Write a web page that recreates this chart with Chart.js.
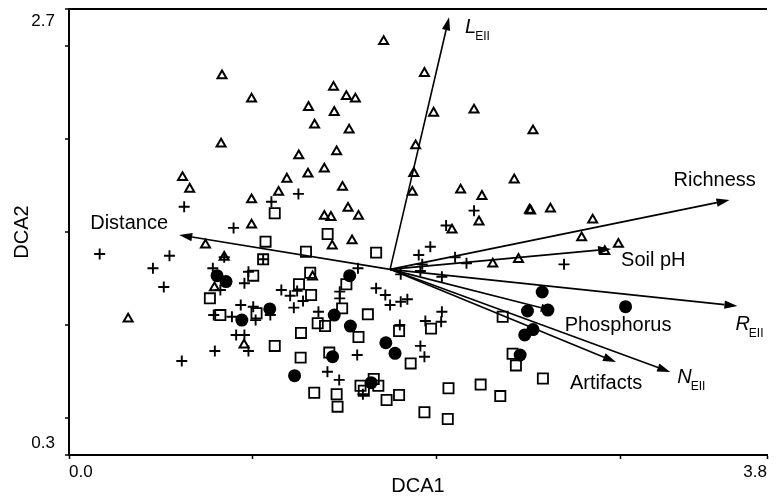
<!DOCTYPE html>
<html>
<head>
<meta charset="utf-8">
<script src="https://cdn.jsdelivr.net/npm/chart.js@4.4.0/dist/chart.umd.min.js"></script>
<style>
  html, body { margin: 0; padding: 0; background: #fff; }
  #wrap { width: 776px; height: 496px; }
</style>
</head>
<body>
<div id="wrap"><canvas id="dca" width="776" height="496"></canvas></div>
<script>
// sample scores, group by symbol (DCA axis 1, axis 2)
const triX = [0.833, 0.994, 1.304, 0.828, 1.251, 1.301, 0.618, 0.657, 1.186, 1.141, 0.994, 0.994,
  1.713, 1.935, 1.440, 1.510, 1.559, 1.444, 1.985, 2.205, 1.337, 1.525, 2.526, 1.457, 1.887,
  1.390, 1.877, 1.489, 1.869, 2.424, 2.132, 2.248, 1.519, 1.390, 1.426, 1.576, 2.507, 2.513,
  2.621, 2.232, 2.085, 2.851, 2.791, 2.991, 0.743, 0.322, 0.792, 0.953, 0.845, 1.541, 1.433,
  1.326, 2.307, 2.447, 2.917];
const triY = [2.341, 2.216, 2.171, 1.974, 1.911, 1.812, 1.794, 1.731, 1.785, 1.714, 1.674, 1.538,
  2.526, 2.354, 2.279, 2.230, 2.216, 2.144, 2.140, 2.157, 2.076, 2.049, 2.045, 1.932, 1.964,
  1.839, 1.816, 1.741, 1.714, 1.781, 1.726, 1.692, 1.628, 1.585, 1.579, 1.585, 1.618, 1.614,
  1.624, 1.555, 1.511, 1.565, 1.470, 1.434, 1.430, 1.032, 1.200, 0.892, 1.364, 1.453, 1.425,
  1.259, 1.328, 1.353, 1.395];

const crossX = [0.627, 1.249, 1.102, 0.896, 0.167, 0.547, 0.457, 0.516, 0.783, 0.845, 0.977, 0.955,
  0.824, 0.788, 0.887, 0.935, 1.003, 1.016, 0.910, 0.955, 0.977, 0.794, 0.614, 1.156, 1.204,
  1.242, 1.224, 1.274, 1.096, 1.057, 2.205, 2.053, 2.695, 1.967, 1.904, 1.923, 1.913, 2.102,
  2.164, 2.030, 1.573, 1.806, 1.672, 1.722, 1.748, 1.806, 1.842, 1.474, 1.474, 1.358, 2.030,
  1.940, 2.026, 1.801, 1.913, 1.935, 1.569, 1.407, 1.471, 1.600];
const crossY = [1.636, 1.705, 1.663, 1.522, 1.382, 1.372, 1.305, 1.204, 1.305, 1.364, 1.286, 1.224,
  1.188, 1.053, 1.044, 1.107, 1.098, 1.026, 0.946, 0.946, 0.860, 0.860, 0.806, 1.188, 1.157,
  1.183, 1.093, 1.129, 1.053, 1.353, 1.615, 1.535, 1.326, 1.421, 1.376, 1.326, 1.290, 1.364,
  1.332, 1.259, 1.305, 1.272, 1.197, 1.161, 1.107, 1.125, 1.138, 1.179, 1.143, 1.071, 1.071,
  1.021, 1.017, 1.000, 0.887, 0.829, 0.838, 0.748, 0.704, 0.627];

const squareX = [1.120, 1.408, 1.070, 1.057, 1.003, 0.767, 0.824, 1.021, 1.252, 1.263, 1.120, 1.261,
  1.290, 1.672, 1.313, 1.318, 1.510, 1.487, 1.354, 1.394, 1.627, 1.576, 1.797, 1.971, 1.417,
  1.860, 1.587, 1.659, 1.684, 1.605, 1.335, 1.457, 1.462, 1.729, 1.797, 1.935, 2.066, 2.241,
  2.348, 2.062, 2.361, 2.415, 2.433, 2.580];
const squareY = [1.601, 1.489, 1.448, 1.353, 1.265, 1.143, 1.053, 1.063, 1.219, 0.957, 0.887, 0.824,
  1.394, 1.389, 1.281, 1.161, 1.219, 1.089, 1.009, 0.994, 1.057, 0.935, 0.967, 0.980, 0.851,
  0.793, 0.673, 0.709, 0.673, 0.646, 0.635, 0.627, 0.560, 0.596, 0.623, 0.530, 0.659, 0.679,
  0.617, 0.494, 1.044, 0.845, 0.782, 0.712];

const dotX = [0.806, 0.855, 0.941, 1.093, 1.228, 1.528, 1.444, 1.532, 1.725, 1.775, 1.435, 1.645,
  2.576, 2.496, 2.607, 3.030, 2.526, 2.481, 2.456];
const dotY = [1.265, 1.233, 1.026, 1.086, 0.727, 1.265, 1.053, 0.994, 0.904, 0.847, 0.829, 0.689,
  1.177, 1.075, 1.080, 1.098, 0.975, 0.946, 0.838];

// biplot arrows (tail at the centroid)
const arrowOrigin = [1.748, 1.299];
const arrowNames = ['L', 'Richness', 'Distance', 'Soil pH', 'R', 'Phosphorus', 'Artifacts', 'N'];
const arrowSubs = ['EII', '', '', '', 'EII', '', '', 'EII'];
const arrowX = [2.069, 3.596, 0.600, 2.951, 3.639, 2.639, 2.978, 3.273];
const arrowY = [2.655, 1.672, 1.484, 1.409, 1.102, 1.075, 0.800, 0.747];

const xTicks = [0, 1, 2, 3, 3.8];
const xTickLabels = ['0.0', '', '', '', '3.8'];
const yTicks = [0.3, 0.5, 1.0, 1.5, 2.0, 2.5, 2.7];
const yTickLabels = ['0.3', '', '', '', '', '', '2.7'];

const FONT = "'Liberation Sans', Arial, Helvetica, sans-serif";

function pts(xs, ys) {
  return xs.map((x, i) => ({ x, y: ys[i] }));
}

// label placement relative to the arrow tip, in pixels
const labelOffsets = {
  'L': [16, 16], 'Richness': [-56, -14], 'Distance': [-89, -6], 'Soil pH': [10, 17],
  'R': [-2, 24], 'Phosphorus': [11, 20], 'Artifacts': [-46, 27], 'N': [7, 11]
};

const arrowPlugin = {
  id: 'arrows',
  afterDatasetsDraw(chart) {
    const { ctx } = chart;
    const xs = chart.scales.x, ys = chart.scales.y;
    const ox = xs.getPixelForValue(arrowOrigin[0]);
    const oy = ys.getPixelForValue(arrowOrigin[1]);
    ctx.save();
    ctx.strokeStyle = '#000';
    ctx.fillStyle = '#000';
    ctx.lineWidth = 1.6;
    arrowNames.forEach((name, i) => {
      const tx = xs.getPixelForValue(arrowX[i]);
      const ty = ys.getPixelForValue(arrowY[i]);
      const ang = Math.atan2(ty - oy, tx - ox);
      const len = 13, half = 4.2;
      const bx = tx - len * Math.cos(ang), by = ty - len * Math.sin(ang);
      ctx.beginPath();
      ctx.moveTo(ox, oy);
      ctx.lineTo(bx, by);
      ctx.stroke();
      ctx.beginPath();
      ctx.moveTo(tx, ty);
      ctx.lineTo(bx + half * Math.sin(ang), by - half * Math.cos(ang));
      ctx.lineTo(bx - half * Math.sin(ang), by + half * Math.cos(ang));
      ctx.closePath();
      ctx.fill();

      const off = labelOffsets[name];
      const lx = tx + off[0], ly = ty + off[1];
      ctx.textBaseline = 'alphabetic';
      ctx.textAlign = 'left';
      if (arrowSubs[i]) {
        ctx.font = 'italic 20px ' + FONT;
        ctx.fillText(name, lx, ly);
        const w = ctx.measureText(name).width;
        ctx.font = '12px ' + FONT;
        ctx.fillText(arrowSubs[i], lx + w - 1, ly + 7);
      } else {
        ctx.font = '20px ' + FONT;
        ctx.fillText(name, lx, ly);
      }
    });
    ctx.restore();
  }
};

new Chart(document.getElementById('dca'), {
  type: 'scatter',
  data: {
    datasets: [
      { label: 'triangles', data: pts(triX, triY), pointStyle: 'triangle', radius: 5.2,
        borderWidth: 2, borderColor: '#000', backgroundColor: 'rgba(0,0,0,0)', order: 4 },
      { label: 'squares', data: pts(squareX, squareY), pointStyle: 'rect', radius: 7.2,
        borderWidth: 1.8, borderColor: '#000', backgroundColor: 'rgba(0,0,0,0)', order: 3 },
      { label: 'crosses', data: pts(crossX, crossY), pointStyle: 'cross', radius: 5.5,
        borderWidth: 1.9, borderColor: '#000', order: 2 },
      { label: 'dots', data: pts(dotX, dotY), pointStyle: 'circle', radius: 6.5,
        borderWidth: 0, backgroundColor: '#000', order: 1 }
    ]
  },
  options: {
    responsive: false,
    animation: false,
    events: [],
    layout: { padding: { top: 9, right: 0, bottom: 0, left: 0 } },
    plugins: { legend: { display: false }, tooltip: { enabled: false } },
    scales: {
      x: {
        type: 'linear',
        min: 0,
        max: 3.8,
        afterBuildTicks: s => { s.ticks = xTicks.map(value => ({ value })); },
        afterFit: s => { s.height = 41; s.paddingLeft = 0; s.paddingRight = 0; },
        border: { color: '#000', width: 2 },
        grid: { drawOnChartArea: false, tickLength: 4, tickColor: '#000', tickWidth: 1.5 },
        ticks: {
          align: 'inner', autoSkip: false, maxRotation: 0, padding: 3, color: '#000',
          font: { family: FONT, size: 17, lineHeight: 1.2 },
          callback: (v, i) => xTickLabels[i]
        },
        title: {
          display: true, text: 'DCA1', color: '#000', padding: 0,
          font: { family: FONT, size: 20, lineHeight: 1 }
        }
      },
      y: {
        type: 'linear',
        min: 0.3,
        max: 2.7,
        afterBuildTicks: s => { s.ticks = yTicks.map(value => ({ value })); },
        afterFit: s => { s.width = 69; s.paddingTop = 0; s.paddingBottom = 0; },
        border: { color: '#000', width: 2 },
        grid: {
          drawOnChartArea: true,
          color: c => (c.tick && c.tick.value === 2.7 ? '#000' : 'rgba(0,0,0,0)'),
          lineWidth: c => (c.tick && c.tick.value === 2.7 ? 2 : 0),
          tickLength: 4, tickColor: '#000', tickWidth: 1.5
        },
        ticks: {
          padding: 10, color: '#000', autoSkip: false,
          font: { family: FONT, size: 17, lineHeight: 1.4 },
          // push the end labels inside the axis range
          callback: (v, i) => (i === 0 ? [yTickLabels[i], ''] : i === yTicks.length - 1 ? ['', yTickLabels[i]] : '')
        },
        title: {
          display: true, text: 'DCA2', color: '#000', padding: { top: 12, bottom: 0 },
          font: { family: FONT, size: 20, lineHeight: 1 }
        }
      }
    }
  },
  plugins: [arrowPlugin]
});
</script>
</body>
</html>
